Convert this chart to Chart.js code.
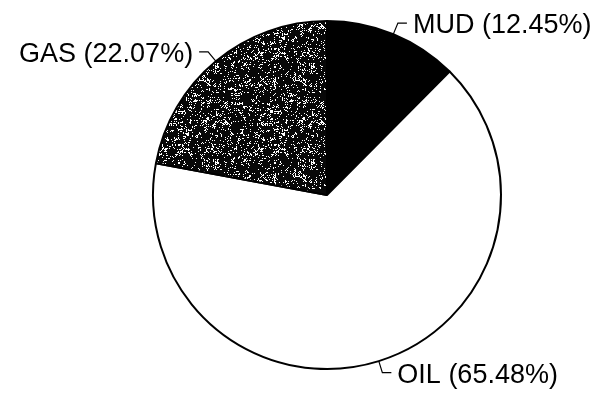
<!DOCTYPE html>
<html>
<head>
<meta charset="utf-8">
<script src="https://cdn.jsdelivr.net/npm/chart.js@4"></script>
<style>
  html, body { margin: 0; padding: 0; background: #fff; }
  #wrap { position: relative; width: 599px; height: 406px; }
</style>
</head>
<body>
<div id="wrap"><canvas id="c" width="599" height="406"></canvas></div>
<script>
// ---- data ----
const categories = ['MUD', 'OIL', 'GAS'];
const percentages = [12.45, 65.48, 22.07];
const sliceLabels = categories.map((c, i) => c + ' (' + percentages[i].toFixed(2) + '%)');

// ---- stippled texture for GAS (deterministic hash, visual only) ----
function hash(x, y) {
  let h = (x * 374761393 + y * 668265263) | 0;
  h = (h ^ (h >>> 13)) * 1274126177 | 0;
  h = h ^ (h >>> 16);
  return (h >>> 0) / 4294967295;
}
function makeStipple() {
  const s = 96;
  const cv = document.createElement('canvas');
  cv.width = s; cv.height = s;
  const g = cv.getContext('2d');
  const img = g.createImageData(s, s);
  for (let y = 0; y < s; y++) {
    for (let x = 0; x < s; x++) {
      const coarse = hash(Math.floor(x / 3) + 17, Math.floor(y / 3) + 29);
      const fine = hash(x, y);
      const white = fine < (coarse < 0.3 ? 0.38 : 0.07);
      const v = white ? 255 : 8;
      const k = (y * s + x) * 4;
      img.data[k] = v; img.data[k + 1] = v; img.data[k + 2] = v; img.data[k + 3] = 255;
    }
  }
  g.putImageData(img, 0, 0);
  return g.createPattern(cv, 'repeat');
}

const canvas = document.getElementById('c');
const ctx0 = canvas.getContext('2d');
const stipple = makeStipple();

const leaderPlugin = {
  id: 'leaders',
  afterDraw(chart) {
    const ctx = chart.ctx;
    const meta = chart.getDatasetMeta(0);
    ctx.save();
    ctx.strokeStyle = '#000';
    ctx.lineWidth = 1.2;
    ctx.fillStyle = '#000';
    ctx.font = '27px "Liberation Sans", Arial, sans-serif';
    ctx.textBaseline = 'middle';
    meta.data.forEach((arc, i) => {
      const mid = (arc.startAngle + arc.endAngle) / 2;
      const dx = Math.cos(mid), dy = Math.sin(mid);
      const r = arc.outerRadius;
      const x0 = arc.x + dx * r, y0 = arc.y + dy * r;
      const x1 = arc.x + dx * (r + 12), y1 = arc.y + dy * (r + 12);
      const side = dx >= 0 ? 1 : -1;
      const x2 = x1 + side * 9;
      ctx.beginPath();
      ctx.moveTo(x0, y0);
      ctx.lineTo(x1, y1);
      ctx.lineTo(x2, y1);
      ctx.stroke();
      ctx.textAlign = side > 0 ? 'left' : 'right';
      ctx.fillText(sliceLabels[i], x2 + side * 6, y1 + 3);
    });
    ctx.restore();
  }
};

new Chart(ctx0, {
  type: 'pie',
  data: {
    labels: categories,
    datasets: [{
      data: percentages,
      backgroundColor: ['#000000', '#ffffff', stipple],
      borderColor: '#000000',
      borderWidth: 2,
      hoverOffset: 0,
      offset: 0
    }]
  },
  options: {
    responsive: false,
    animation: false,
    radius: 174,
    rotation: 0,
    layout: { padding: { left: 60, right: 5, top: 0, bottom: 16 } },
    plugins: {
      legend: { display: false },
      tooltip: { enabled: false }
    },
    events: []
  },
  plugins: [leaderPlugin]
});
</script>
</body>
</html>
